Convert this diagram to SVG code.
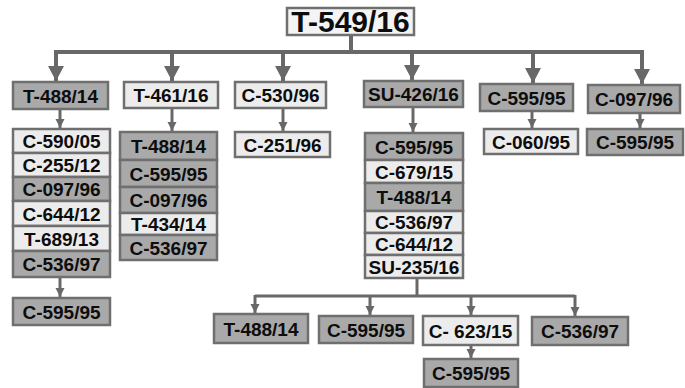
<svg xmlns="http://www.w3.org/2000/svg" width="685" height="388" viewBox="0 0 685 388">
<style>
.d{fill:#a9a9a9;stroke:#6f6f6f;stroke-width:2.5}
.l{fill:#ececec;stroke:#6f6f6f;stroke-width:2.5}
.t{font-family:"Liberation Sans",Arial,sans-serif;font-weight:bold;font-size:19px;fill:#0d0d0d;text-anchor:middle}
.big{font-size:30px}
.c{fill:none;stroke:#686868}
.w4{stroke-width:4}
.w3{stroke-width:3}
</style>
<defs>
<marker id="ah" markerUnits="userSpaceOnUse" markerWidth="16" markerHeight="16" refX="15" refY="8" orient="auto">
<path d="M0,0 L15,8 L0,16 Z" fill="#686868"/>
</marker>
<marker id="as" markerUnits="userSpaceOnUse" markerWidth="10" markerHeight="10" refX="9" refY="5" orient="auto">
<path d="M0,0.5 L9,5 L0,9.5 Z" fill="#686868"/>
</marker>
</defs>
<rect width="685" height="388" fill="#fff"/>
<g id="connectors">
<path class="c w4" d="M351 35 V52 M56 52 H642"/>
<path class="c w4" marker-end="url(#ah)" d="M56 50 V81"/>
<path class="c w4" marker-end="url(#ah)" d="M172 50 V81"/>
<path class="c w4" marker-end="url(#ah)" d="M283 50 V81"/>
<path class="c w4" marker-end="url(#ah)" d="M412 50 V80"/>
<path class="c w4" marker-end="url(#ah)" d="M533 50 V83"/>
<path class="c w4" marker-end="url(#ah)" d="M642 50 V84"/>
<path class="c w3" marker-end="url(#as)" d="M60 110 V128"/>
<path class="c w3" marker-end="url(#as)" d="M172 109 V131"/>
<path class="c w3" marker-end="url(#as)" d="M283 109 V131"/>
<path class="c w3" marker-end="url(#as)" d="M413 108 V132"/>
<path class="c w3" marker-end="url(#as)" d="M532 112 V128"/>
<path class="c w3" marker-end="url(#as)" d="M640 114 V128"/>
<path class="c w3" marker-end="url(#as)" d="M60 278 V297"/>
<path class="c w3" d="M417 279 V296 M255 296 H575"/>
<path class="c w3" marker-end="url(#as)" d="M255 295 V313"/>
<path class="c w3" marker-end="url(#as)" d="M370 295 V315"/>
<path class="c w3" marker-end="url(#as)" d="M471 295 V315"/>
<path class="c w3" marker-end="url(#as)" d="M575 295 V316"/>
<path class="c w3" marker-end="url(#as)" d="M471 346 V358"/>
</g>
<g id="n-root"><rect x="287" y="8" width="127" height="27" fill="#f4f4f4" stroke="#6f6f6f" stroke-width="2.5"/><text class="t big" x="350.5" y="32">T-549/16</text></g>
<g id="n-t488"><rect class="d" x="13" y="82" width="95" height="27"/><text class="t" x="60.5" y="102.5">T-488/14</text></g>
<g id="n-t461"><rect class="l" x="124" y="82" width="94" height="26"/><text class="t" x="171" y="102">T-461/16</text></g>
<g id="n-c530"><rect class="l" x="235" y="82" width="91" height="26"/><text class="t" x="280.5" y="102">C-530/96</text></g>
<g id="n-su426"><rect class="d" x="364" y="81" width="99" height="26"/><text class="t" x="413.5" y="101">SU-426/16</text></g>
<g id="n-c595a"><rect class="d" x="480" y="84" width="93" height="27"/><text class="t" x="526.5" y="104.5">C-595/95</text></g>
<g id="n-c097"><rect class="d" x="588" y="85" width="92" height="28"/><text class="t" x="634" y="106">C-097/96</text></g>
<g id="list-t488">
<g id="n-l1a"><rect class="l" x="13" y="129" width="97" height="24"/><text class="t" x="61.5" y="148">C-590/05</text></g>
<g id="n-l1b"><rect class="l" x="13" y="153" width="97" height="24"/><text class="t" x="61.5" y="172">C-255/12</text></g>
<g id="n-l1c"><rect class="d" x="13" y="177" width="97" height="24"/><text class="t" x="61.5" y="196">C-097/96</text></g>
<g id="n-l1d"><rect class="l" x="13" y="201" width="97" height="25"/><text class="t" x="61.5" y="220.5">C-644/12</text></g>
<g id="n-l1e"><rect class="l" x="13" y="226" width="97" height="25"/><text class="t" x="61.5" y="245.5">T-689/13</text></g>
<g id="n-l1f"><rect class="d" x="13" y="251" width="97" height="26"/><text class="t" x="61.5" y="271">C-536/97</text></g>
</g>
<g id="n-c595b"><rect class="d" x="13" y="298" width="97" height="27"/><text class="t" x="61.5" y="318.5">C-595/95</text></g>
<g id="list-t461">
<g id="n-l2a"><rect class="d" x="120" y="132" width="97" height="28"/><text class="t" x="168.5" y="153">T-488/14</text></g>
<g id="n-l2b"><rect class="d" x="120" y="160" width="97" height="27"/><text class="t" x="168.5" y="180.5">C-595/95</text></g>
<g id="n-l2c"><rect class="d" x="120" y="187" width="97" height="26"/><text class="t" x="168.5" y="207">C-097/96</text></g>
<g id="n-l2d"><rect class="l" x="120" y="213" width="97" height="22"/><text class="t" x="168.5" y="231">T-434/14</text></g>
<g id="n-l2e"><rect class="d" x="120" y="235" width="97" height="25"/><text class="t" x="168.5" y="254.5">C-536/97</text></g>
</g>
<g id="n-c251"><rect class="l" x="235" y="132" width="95" height="25"/><text class="t" x="282.5" y="151.5">C-251/96</text></g>
<g id="list-su426">
<g id="n-l3a"><rect class="d" x="365" y="133" width="98" height="27"/><text class="t" x="414" y="153.5">C-595/95</text></g>
<g id="n-l3b"><rect class="l" x="365" y="160" width="98" height="23"/><text class="t" x="414" y="178.5">C-679/15</text></g>
<g id="n-l3c"><rect class="d" x="365" y="183" width="98" height="28"/><text class="t" x="414" y="204">T-488/14</text></g>
<g id="n-l3d"><rect class="l" x="365" y="211" width="98" height="22"/><text class="t" x="414" y="229">C-536/97</text></g>
<g id="n-l3e"><rect class="l" x="365" y="233" width="98" height="22"/><text class="t" x="414" y="251">C-644/12</text></g>
<g id="n-l3f"><rect class="l" x="365" y="255" width="98" height="23"/><text class="t" x="414" y="273.5">SU-235/16</text></g>
</g>
<g id="n-c060"><rect class="l" x="484" y="129" width="94" height="25"/><text class="t" x="531" y="148.5">C-060/95</text></g>
<g id="n-c595c"><rect class="d" x="587" y="129" width="96" height="26"/><text class="t" x="635" y="149">C-595/95</text></g>
<g id="n-t488b"><rect class="d" x="214" y="314" width="94" height="29"/><text class="t" x="261" y="335.5">T-488/14</text></g>
<g id="n-c595d"><rect class="d" x="319" y="316" width="94" height="27"/><text class="t" x="366" y="336.5">C-595/95</text></g>
<g id="n-c623"><rect class="l" x="423" y="316" width="95" height="29"/><text class="t" x="470.5" y="337.5">C- 623/15</text></g>
<g id="n-c536"><rect class="d" x="532" y="317" width="96" height="28"/><text class="t" x="580" y="338">C-536/97</text></g>
<g id="n-c595e"><rect class="d" x="424" y="359" width="94" height="28"/><text class="t" x="471" y="380">C-595/95</text></g>
</svg>
